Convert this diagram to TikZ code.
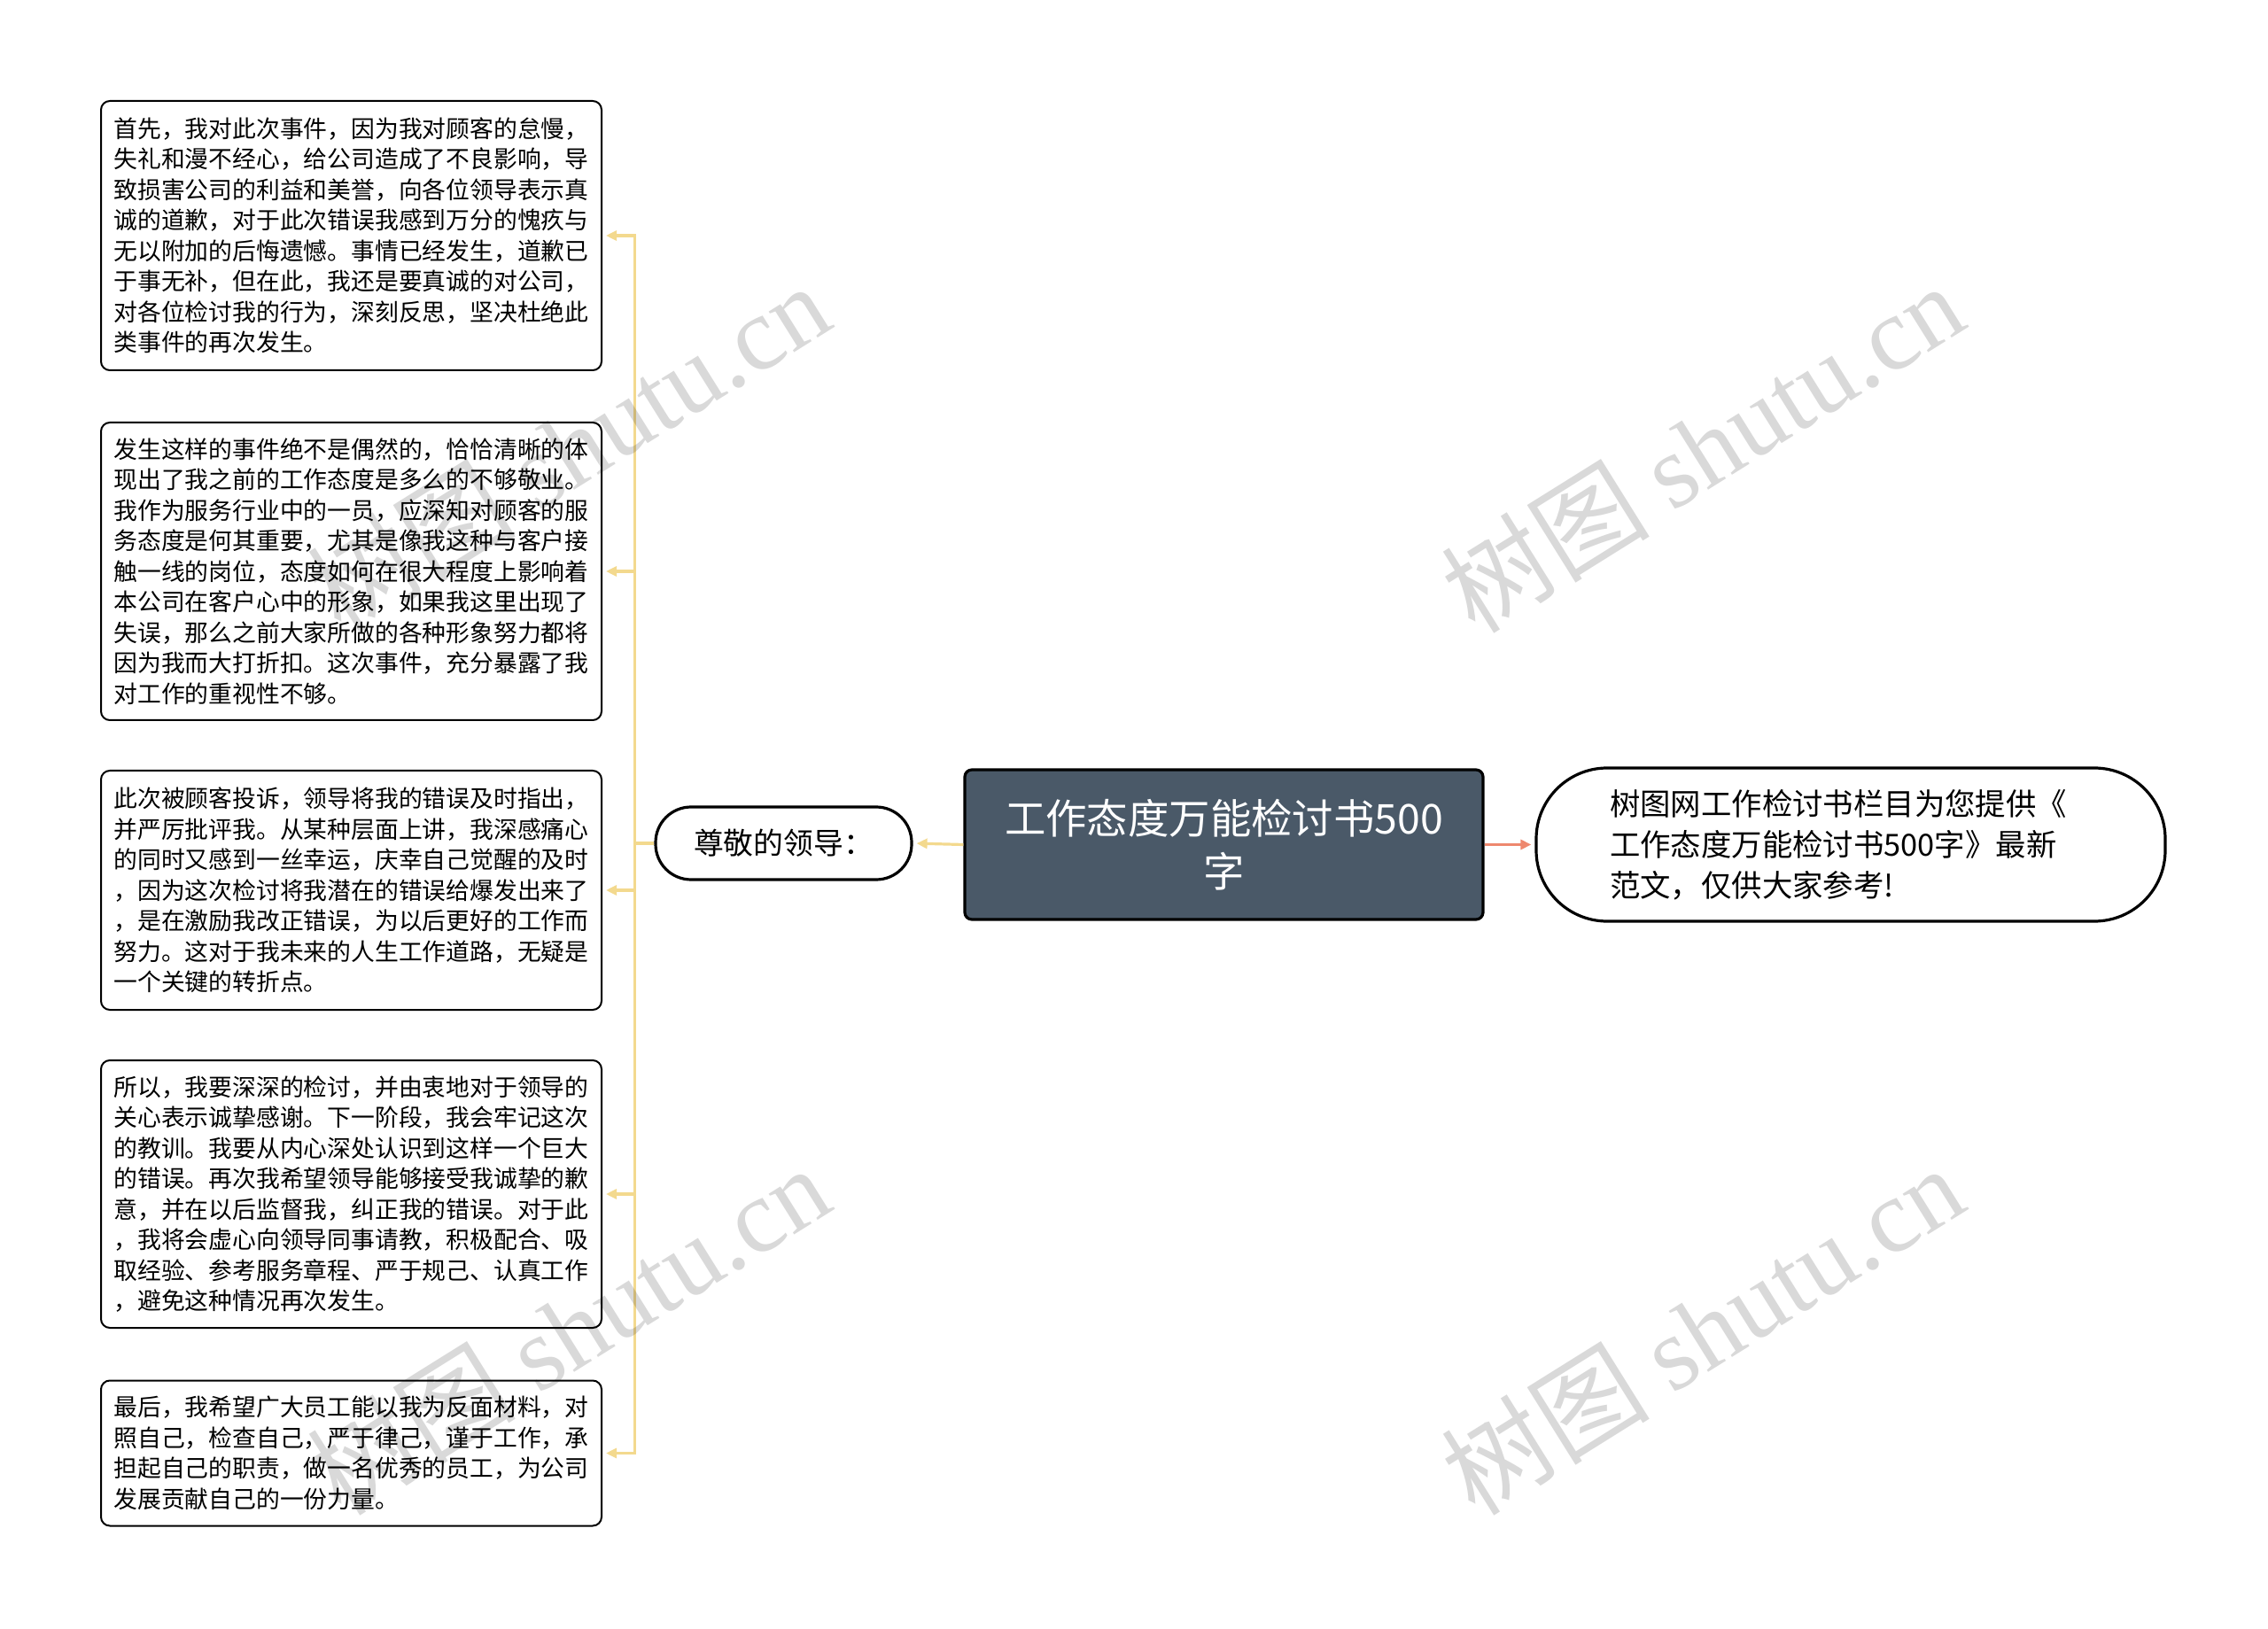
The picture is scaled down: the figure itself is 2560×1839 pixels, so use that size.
\documentclass[tikz,border=0pt]{standalone}
\usepackage{fontspec}
\setmainfont{Noto Sans CJK SC}
\newfontfamily\markserif{Liberation Serif}
\usetikzlibrary{arrows.meta}

\definecolor{branchyellow}{RGB}{243,217,142}
\definecolor{noteorange}{RGB}{238,136,110}
\definecolor{rootslate}{RGB}{74,89,104}

\tikzset{every picture/.style={line width=0.75pt},
  textbox/.style={draw=black, line width=1pt, rounded corners=5pt, fill=white, inner sep=0pt,
    minimum width=282.5pt, align=left, font=\fontsize{13.4pt}{17.25pt}\selectfont},
  rootbox/.style={draw=black, line width=1.6pt, rounded corners=4pt, fill=rootslate, text=white,
    minimum width=292.5pt, minimum height=84.5pt, align=center, font=\fontsize{23.2pt}{30pt}\selectfont},
  leadbox/.style={draw=black, line width=1.6pt, rounded corners=20pt, fill=white,
    minimum width=144.5pt, minimum height=41pt, font=\fontsize{16.9pt}{20pt}\selectfont},
  notebox/.style={draw=black, line width=1.6pt, rounded corners=40pt, fill=white,
    minimum width=355pt, minimum height=86.5pt, align=left, font=\fontsize{17.2pt}{22.9pt}\selectfont},
  branch/.style={draw=branchyellow, line width=1.6pt, -{Triangle[length=6pt,width=5.5pt]}, shorten >=2pt},
  noteline/.style={draw=noteorange, line width=1.6pt, -{Triangle[length=6pt,width=5.5pt]}, shorten >=2pt},
  wmark/.style={text=black, opacity=0.15, rotate=32, font=\fontsize{59pt}{59pt}\selectfont}}

\begin{document}
\begin{tikzpicture}[x=0.5pt,y=0.5pt,yscale=-1,xscale=1]
\useasboundingbox (0,0) rectangle (2560,1839);

% Text Node
\node[rootbox] (root) at (1381.5,953.5) {工作态度万能检讨书500\\字};
% Text Node
\node[leadbox] (lead) at (884.5,952) {尊敬的领导：};
% Text Node
\node[notebox, text width=272pt] (note) at (2089,953.5) {树图网工作检讨书栏目为您提供《\\工作态度万能检讨书500字》最新\\范文，仅供大家参考!};

% Text Node
\node[textbox, minimum height=152pt] (box1) at (396.5,266) {首先，我对此次事件，因为我对顾客的怠慢，\\失礼和漫不经心，给公司造成了不良影响，导\\致损害公司的利益和美誉，向各位领导表示真\\诚的道歉，对于此次错误我感到万分的愧疚与\\无以附加的后悔遗憾。事情已经发生，道歉已\\于事无补，但在此，我还是要真诚的对公司，\\对各位检讨我的行为，深刻反思，坚决杜绝此\\类事件的再次发生。};
% Text Node
\node[textbox, minimum height=168pt] (box2) at (396.5,645) {发生这样的事件绝不是偶然的，恰恰清晰的体\\现出了我之前的工作态度是多么的不够敬业。\\我作为服务行业中的一员，应深知对顾客的服\\务态度是何其重要，尤其是像我这种与客户接\\触一线的岗位，态度如何在很大程度上影响着\\本公司在客户心中的形象，如果我这里出现了\\失误，那么之前大家所做的各种形象努力都将\\因为我而大打折扣。这次事件，充分暴露了我\\对工作的重视性不够。};
% Text Node
\node[textbox, minimum height=135pt] (box3) at (396.5,1005) {此次被顾客投诉，领导将我的错误及时指出，\\并严厉批评我。从某种层面上讲，我深感痛心\\的同时又感到一丝幸运，庆幸自己觉醒的及时\\，因为这次检讨将我潜在的错误给爆发出来了\\，是在激励我改正错误，为以后更好的工作而\\努力。这对于我未来的人生工作道路，无疑是\\一个关键的转折点。};
% Text Node
\node[textbox, minimum height=151pt] (box4) at (396.5,1348) {所以，我要深深的检讨，并由衷地对于领导的\\关心表示诚挚感谢。下一阶段，我会牢记这次\\的教训。我要从内心深处认识到这样一个巨大\\的错误。再次我希望领导能够接受我诚挚的歉\\意，并在以后监督我，纠正我的错误。对于此\\，我将会虚心向领导同事请教，积极配合、吸\\取经验、参考服务章程、严于规己、认真工作\\，避免这种情况再次发生。};
% Text Node
\node[textbox, minimum height=82pt] (box5) at (396.5,1640.5) {最后，我希望广大员工能以我为反面材料，对\\照自己，检查自己，严于律己，谨于工作，承\\担起自己的职责，做一名优秀的员工，为公司\\发展贡献自己的一份力量。};

%Straight Lines
\draw[branch] (root.west) -- (lead.east);
\draw[noteline] (root.east) -- (note.west);
%Straight Lines
\foreach \n in {1,...,5}
  \draw[branch] (lead.west) -- ++(-22,0) |- (box\n.east);

% watermark
\node[wmark] (mark1) at (641,505) {树图 {\markserif shutu.cn}};
\node[wmark] (mark2) at (1921,505) {树图 {\markserif shutu.cn}};
\node[wmark] (mark3) at (641,1501) {树图 {\markserif shutu.cn}};
\node[wmark] (mark4) at (1921,1501) {树图 {\markserif shutu.cn}};

\end{tikzpicture}
\end{document}
